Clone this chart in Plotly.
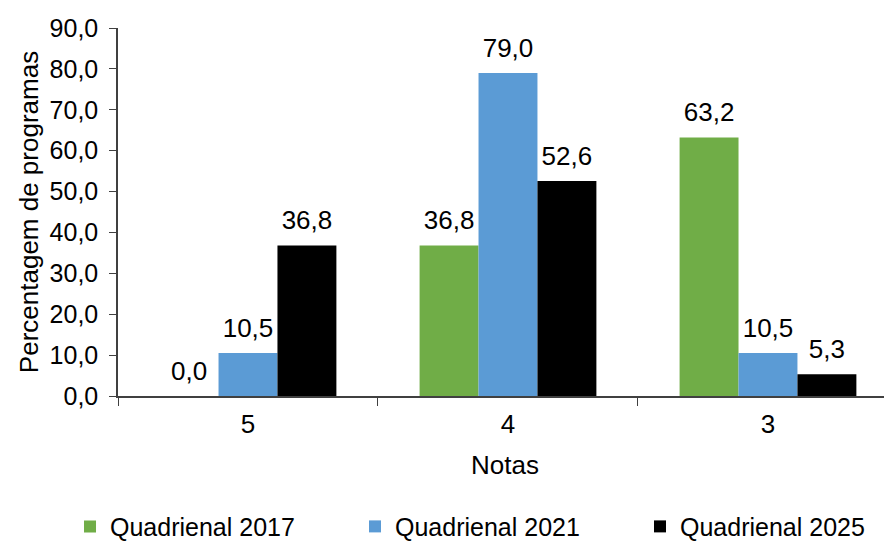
import plotly.graph_objects as go

categories = ["5", "4", "3"]
series_names = ["Quadrienal 2017", "Quadrienal 2021", "Quadrienal 2025"]
q2017 = [0.0, 36.8, 63.2]
q2021 = [10.5, 79.0, 10.5]
q2025 = [36.8, 52.6, 5.3]
colors = ["#70AD47", "#5B9BD5", "#000000"]

FONT = "Liberation Sans, Arial, sans-serif"
FS = 26
TFS = 25

fig = go.Figure()
for name, vals, col in zip(series_names, [q2017, q2021, q2025], colors):
    fig.add_trace(go.Bar(
        x=categories, y=vals, name=name, marker_color=col,
        marker_line_width=0, offsetgroup=name,
    ))
for name, vals, col in zip(series_names, [q2017, q2021, q2025], colors):
    fig.add_trace(go.Scatter(
        x=categories, y=vals, mode="markers+text", offsetgroup=name,
        marker=dict(size=14, opacity=0), text=[f"{v:.1f}".replace(".", ",") for v in vals],
        textposition="top center", textfont=dict(size=FS, color="#000000", family=FONT),
        showlegend=False, hoverinfo="skip", cliponaxis=False,
    ))

fig.update_layout(
    width=884, height=539,
    margin=dict(l=110, r=0, t=20, b=151, autoexpand=False),
    paper_bgcolor="white", plot_bgcolor="white",
    barmode="group", bargap=0.32, bargroupgap=0,
    scattermode="group", scattergap=0.32,
    separators=",.",
    font=dict(family=FONT, size=FS, color="#000000"),
    showlegend=True,
    legend=dict(orientation="h", xref="paper", x=-0.062, xanchor="left",
                yref="paper", y=-0.355, yanchor="middle",
                font=dict(size=TFS), entrywidth=240, traceorder="normal"),
)
fig.update_xaxes(
    range=[-0.5, 2.477], showline=True, linecolor="#404040", linewidth=1.5,
    ticks="outside", tickson="boundaries", ticklen=8, tickcolor="#404040",
    ticklabelstandoff=4, automargin=False,
    tickfont=dict(size=FS), title=dict(text="Notas", font=dict(size=FS), standoff=18),
    showgrid=False,
)
fig.update_yaxes(
    range=[0, 90], dtick=10, tickformat=".1f", showline=True, linecolor="#404040",
    linewidth=1.5, ticks="outside", ticklen=7, tickcolor="#404040",
    ticklabelstandoff=6, automargin=False,
    tickfont=dict(size=TFS), showgrid=False, zeroline=False,
    title=dict(text="Percentagem de programas", font=dict(size=FS), standoff=3),
)

fig.write_html("out.html")
